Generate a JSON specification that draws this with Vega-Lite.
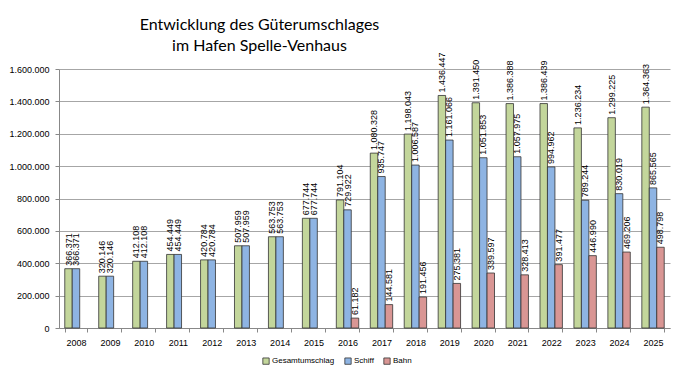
{
  "$schema": "https://vega.github.io/schema/vega-lite/v6.json",
  "autosize": "none",
  "width": 611,
  "height": 259,
  "padding": {"left": 59, "top": 69, "right": 16, "bottom": 55},
  "background": "white",
  "title": {
    "text": ["Entwicklung des Güterumschlages", "im Hafen Spelle-Venhaus"],
    "anchor": "middle",
    "dx": -105,
    "offset": 18,
    "dy": 20,
    "font": "Lato",
    "fontSize": 16,
    "fontWeight": "normal",
    "lineHeight": 21,
    "color": "black"
  },
  "config": {
    "locale": {"number": {"decimal": ",", "thousands": ".", "grouping": [3], "currency": ["", " €"]}},
    "view": {"stroke": null},
    "font": "Liberation Sans"
  },
  "data": {
    "values": [
      {"year": "2008", "series": "Gesamtumschlag", "value": 366371},
      {"year": "2008", "series": "Schiff", "value": 366371},
      {"year": "2009", "series": "Gesamtumschlag", "value": 320146},
      {"year": "2009", "series": "Schiff", "value": 320146},
      {"year": "2010", "series": "Gesamtumschlag", "value": 412108},
      {"year": "2010", "series": "Schiff", "value": 412108},
      {"year": "2011", "series": "Gesamtumschlag", "value": 454449},
      {"year": "2011", "series": "Schiff", "value": 454449},
      {"year": "2012", "series": "Gesamtumschlag", "value": 420784},
      {"year": "2012", "series": "Schiff", "value": 420784},
      {"year": "2013", "series": "Gesamtumschlag", "value": 507959},
      {"year": "2013", "series": "Schiff", "value": 507959},
      {"year": "2014", "series": "Gesamtumschlag", "value": 563753},
      {"year": "2014", "series": "Schiff", "value": 563753},
      {"year": "2015", "series": "Gesamtumschlag", "value": 677744},
      {"year": "2015", "series": "Schiff", "value": 677744},
      {"year": "2016", "series": "Gesamtumschlag", "value": 791104},
      {"year": "2016", "series": "Schiff", "value": 729922},
      {"year": "2016", "series": "Bahn", "value": 61182},
      {"year": "2017", "series": "Gesamtumschlag", "value": 1080328},
      {"year": "2017", "series": "Schiff", "value": 935747},
      {"year": "2017", "series": "Bahn", "value": 144581},
      {"year": "2018", "series": "Gesamtumschlag", "value": 1198043},
      {"year": "2018", "series": "Schiff", "value": 1006587},
      {"year": "2018", "series": "Bahn", "value": 191456},
      {"year": "2019", "series": "Gesamtumschlag", "value": 1436447},
      {"year": "2019", "series": "Schiff", "value": 1161066},
      {"year": "2019", "series": "Bahn", "value": 275381},
      {"year": "2020", "series": "Gesamtumschlag", "value": 1391450},
      {"year": "2020", "series": "Schiff", "value": 1051853},
      {"year": "2020", "series": "Bahn", "value": 339597},
      {"year": "2021", "series": "Gesamtumschlag", "value": 1386388},
      {"year": "2021", "series": "Schiff", "value": 1057975},
      {"year": "2021", "series": "Bahn", "value": 328413},
      {"year": "2022", "series": "Gesamtumschlag", "value": 1386439},
      {"year": "2022", "series": "Schiff", "value": 994962},
      {"year": "2022", "series": "Bahn", "value": 391477},
      {"year": "2023", "series": "Gesamtumschlag", "value": 1236234},
      {"year": "2023", "series": "Schiff", "value": 789244},
      {"year": "2023", "series": "Bahn", "value": 446990},
      {"year": "2024", "series": "Gesamtumschlag", "value": 1299225},
      {"year": "2024", "series": "Schiff", "value": 830019},
      {"year": "2024", "series": "Bahn", "value": 469206},
      {"year": "2025", "series": "Gesamtumschlag", "value": 1364363},
      {"year": "2025", "series": "Schiff", "value": 865565},
      {"year": "2025", "series": "Bahn", "value": 498798}
    ]
  },
  "encoding": {
    "x": {
      "field": "year", "type": "nominal", "title": null,
      "scale": {"paddingInner": 0.34, "paddingOuter": 0.17},
      "axis": {
        "labelAngle": 0, "labelFontSize": 9, "labelColor": "black",
        "tickBand": "extent", "tickSize": 4, "tickColor": "#888", "domainColor": "#888",
        "labelPadding": 6, "grid": false
      }
    },
    "xOffset": {
      "field": "series", "type": "nominal",
      "sort": ["Gesamtumschlag", "Schiff", "Bahn"],
      "scale": {"paddingInner": 0}
    },
    "y": {
      "field": "value", "type": "quantitative", "title": null,
      "scale": {"domain": [0, 1600000]},
      "axis": {
        "values": [0, 200000, 400000, 600000, 800000, 1000000, 1200000, 1400000, 1600000],
        "format": ",d", "labelFontSize": 9, "labelColor": "black",
        "gridColor": "#a6a6a6", "domainColor": "#888", "tickColor": "#888", "tickSize": 4, "labelPadding": 6
      }
    }
  },
  "layer": [
    {
      "mark": {"type": "bar", "stroke": "#333", "strokeWidth": 0.8},
      "encoding": {
        "color": {
          "field": "series", "type": "nominal",
          "sort": ["Gesamtumschlag", "Schiff", "Bahn"],
          "scale": {"domain": ["Gesamtumschlag", "Schiff", "Bahn"], "range": ["#c3d69b", "#8eb4e3", "#d99694"]},
          "legend": {
            "title": null, "orient": "none", "direction": "horizontal",
            "legendX": 203, "legendY": 288,
            "symbolType": "square", "symbolSize": 40, "symbolStrokeColor": "#333", "symbolStrokeWidth": 0.8,
            "labelFontSize": 8, "labelColor": "black", "columnPadding": 8, "labelOffset": 2
          }
        }
      }
    },
    {
      "mark": {"type": "text", "angle": 270, "align": "left", "baseline": "middle", "dx": 3, "fontSize": 9, "color": "black"},
      "encoding": {
        "text": {"field": "value", "type": "quantitative", "format": ",d"}
      }
    }
  ]
}
